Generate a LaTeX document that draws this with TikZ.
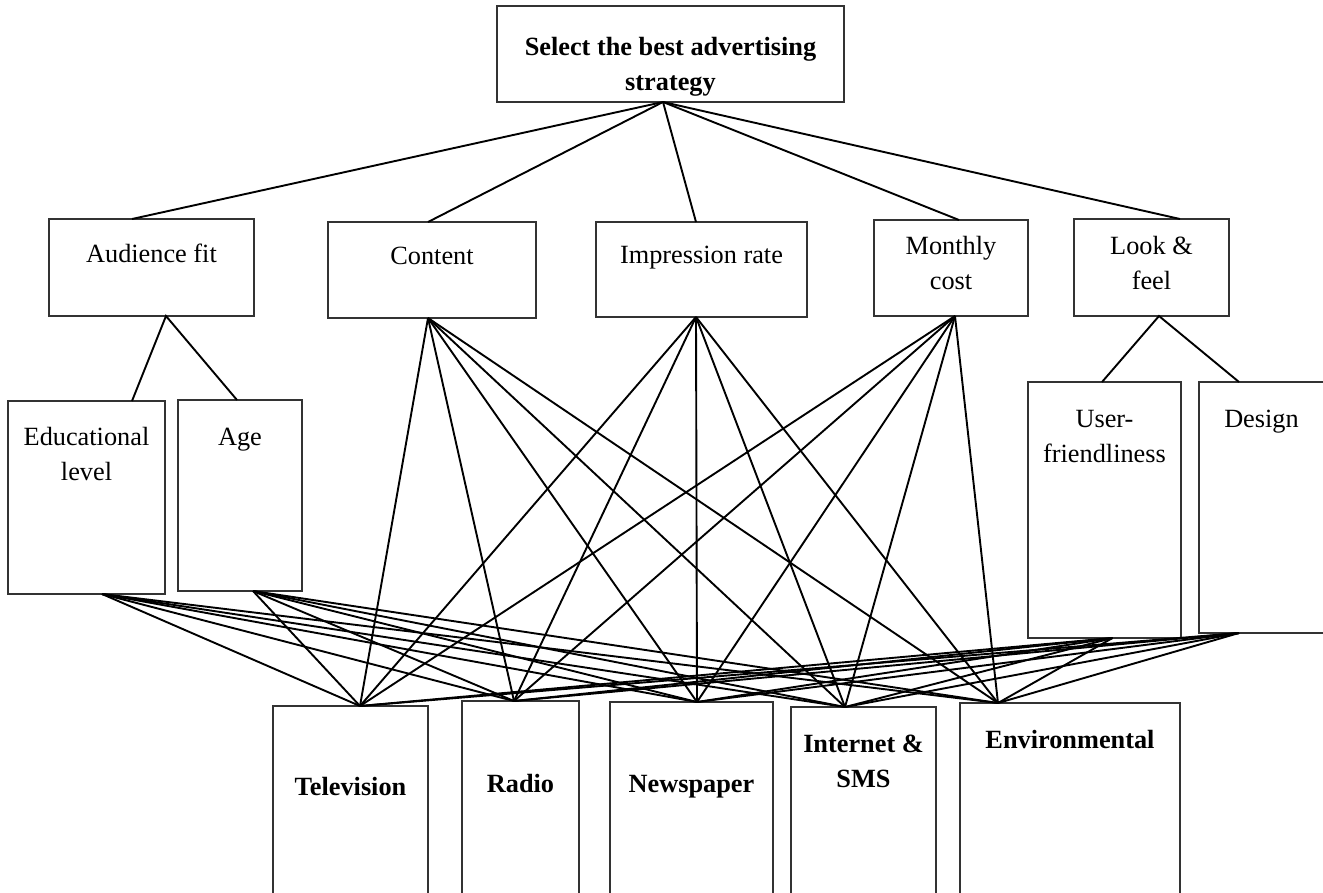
\documentclass[tikz,border=0pt]{standalone}
\usepackage{fontspec}
\setmainfont{Liberation Serif}
\newcommand\boxtxt[4]{\begin{minipage}[t][#2pt][t]{#1pt}\centering\vspace*{\dimexpr #3pt-24.5pt\relax}\strut#4\end{minipage}}
\tikzset{
  box/.style={draw=black!80, line width=1.2pt, inner sep=0pt, outer sep=0pt, anchor=north west, font=\fontsize{26.3}{35}\selectfont},
  bbox/.style={box, font=\fontsize{26.3}{35}\selectfont\bfseries},
  link/.style={line width=1.9pt, black},
}
\begin{document}
\begin{tikzpicture}[x=1pt,y=-1pt]
\useasboundingbox (0,0) rectangle (1323,892);
% goal
\node[bbox] (goal) at (497,6) {\boxtxt{347}{96}{49}{Select the best advertising\\strategy}};
% criteria
\node[box] (aud) at (49,219) {\boxtxt{205}{97}{43}{Audience fit}};
\node[box] (con) at (328,222) {\boxtxt{208}{96}{42}{Content}};
\node[box] (imp) at (596,222) {\boxtxt{211}{95}{41}{Impression rate}};
\node[box] (mon) at (874,220) {\boxtxt{154}{96}{34}{Monthly\\cost}};
\node[box] (look) at (1074,219) {\boxtxt{155}{97}{35}{Look \&\\feel}};
% sub-criteria
\node[box] (edu) at (8,401) {\boxtxt{157}{193}{44}{Educational\\level}};
\node[box] (age) at (178,400) {\boxtxt{124}{191}{45}{Age}};
\node[box] (usr) at (1028,382) {\boxtxt{153}{256}{45}{User-\\friendliness}};
\node[box] (des) at (1199,382) {\boxtxt{125}{251}{45}{Design}};
% alternatives
\node[bbox] (tv) at (273,706) {\boxtxt{155}{200}{89}{Television}};
\node[bbox] (rad) at (462,701) {\boxtxt{117}{205}{91}{Radio}};
\node[bbox] (news) at (610,702) {\boxtxt{163}{205}{90}{Newspaper}};
\node[bbox] (net) at (791,707) {\boxtxt{145}{200}{45}{Internet \&\\SMS}};
\node[bbox] (env) at (960,703) {\boxtxt{220}{205}{45}{Environmental}};
% connection points
\coordinate (goalB) at ([xshift=-7.5pt]goal.south);
\coordinate (audT) at ([xshift=-19.5pt]aud.north);
\coordinate (conT) at ([xshift=-4pt]con.north);
\coordinate (impT) at ([xshift=-5.5pt]imp.north);
\coordinate (monT) at ([xshift=8pt]mon.north);
\coordinate (lookT) at ([xshift=28.5pt]look.north);
\coordinate (audB) at ([xshift=14.5pt]aud.south);
\coordinate (conB) at ([xshift=-4pt]con.south);
\coordinate (impB) at ([xshift=-5.5pt]imp.south);
\coordinate (monB) at ([xshift=4pt]mon.south);
\coordinate (lookB) at ([xshift=7.5pt]look.south);
\coordinate (eduT) at ([xshift=45.5pt]edu.north);
\coordinate (ageT) at ([xshift=-3pt]age.north);
\coordinate (usrT) at ([xshift=-2.5pt]usr.north);
\coordinate (desT) at ([xshift=-22.5pt]des.north);
\coordinate (eduB) at ([xshift=15.5pt]edu.south);
\coordinate (ageB) at ([xshift=13pt]age.south);
\coordinate (usrB) at ([xshift=8pt]usr.south);
\coordinate (desB) at ([xshift=-22.5pt]des.south);
\coordinate (tvT) at ([xshift=9.5pt]tv.north);
\coordinate (radT) at ([xshift=-6.5pt]rad.north);
\coordinate (newsT) at ([xshift=5.5pt]news.north);
\coordinate (netT) at ([xshift=-18.5pt]net.north);
\coordinate (envT) at ([xshift=-72pt]env.north);
% connectors
\foreach \t in {audT,conT,impT,monT,lookT} \draw[link] (goalB) -- (\t);
\draw[link] (eduT) -- (audB) -- (ageT);
\draw[link] (usrT) -- (lookB) -- (desT);
\foreach \s in {conB,impB,monB,eduB,ageB,usrB,desB}
  \foreach \t in {tvT,radT,newsT,netT,envT}
    \draw[link] (\s) -- (\t);
\end{tikzpicture}
\end{document}
